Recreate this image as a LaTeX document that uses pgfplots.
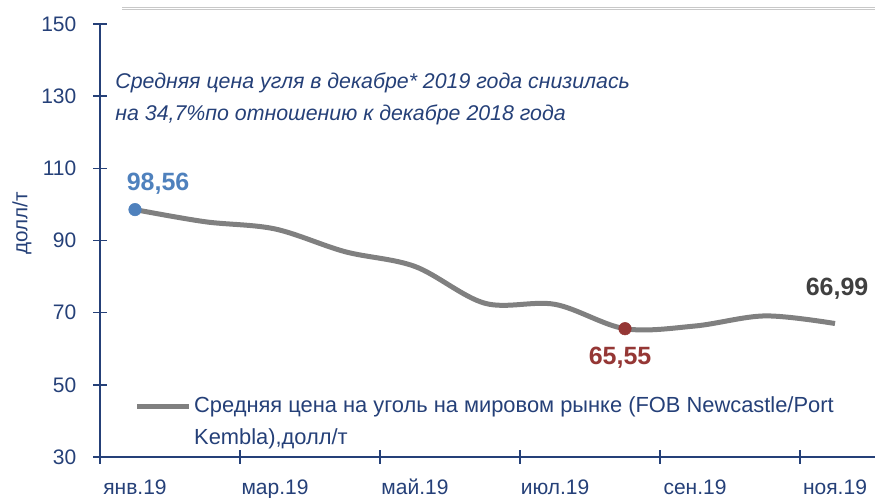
\documentclass[border=0pt]{standalone}
\usepackage{fontspec}
\setmainfont{Liberation Sans}
\usepackage{pgfplots}
\pgfplotsset{compat=1.18}
\definecolor{txtblue}{RGB}{37,64,120}
\definecolor{ptblue}{RGB}{79,129,189}
\definecolor{ptred}{RGB}{149,55,53}
\definecolor{lbgray}{RGB}{64,64,64}
\definecolor{linegray}{RGB}{128,128,128}
\definecolor{topgray}{RGB}{200,200,200}
\pgfplotstableread{
m v
0 98.56
1 95.2
2 93.2
3 86.9
4 82.8
5 72.6
6 72.3
7 65.55
8 66.3
9 69.1
10 66.99
}\coal
\begin{document}
\begin{tikzpicture}
\begin{axis}[
  at={(75pt,30.75pt)}, anchor=south west,
  scale only axis, width=630pt, height=324.75pt,
  xmin=-0.5, xmax=11.5, ymin=30, ymax=150,
  axis x line*=bottom, axis y line*=left,
  axis line style={txtblue, line width=1.2pt},
  ytick={30,50,...,150},
  xtick={-0.5,1.5,...,11.5},
  xticklabels={},
  extra x ticks={0,2,4,6,8,10},
  extra x tick labels={янв.19,мар.19,май.19,июл.19,сен.19,ноя.19},
  extra x tick style={tick style={draw=none}},
  tick align=center,
  major tick length=10.5pt,
  tick style={txtblue, line width=1.2pt},
  ticklabel style={font=\fontsize{15.75}{18}\selectfont, text=txtblue},
  /pgf/number format/assume math mode=true,
  yticklabel style={xshift=-9pt},
  xticklabel style={yshift=-8pt},
  ylabel={долл/т},
  ylabel style={at={(axis description cs:-0.093,0.54)}, anchor=center, font=\fontsize{15.5}{18}\selectfont, text=txtblue},
  legend style={draw=none, fill=none, at={(axis description cs:0.036,0.152)}, anchor=north west,
    font=\fontsize{16.4}{24}\selectfont, text=txtblue, cells={align=left}},
  legend image code/.code={\draw[linegray, line width=3.75pt] (0pt,11.5pt) -- (39pt,11.5pt);},
  clip=false,
]
\addplot[linegray, line width=3.75pt, smooth, tension=0.55] table[x=m,y=v] {\coal};
\addlegendentry{Средняя цена на уголь на мировом рынке (FOB Newcastle/Port\\Kembla),долл/т}
\addplot[only marks, mark=*, mark size=4.7pt, ptblue, forget plot] coordinates {(0,98.56)};
\addplot[only marks, mark=*, mark size=4.7pt, ptred, forget plot] coordinates {(7,65.55)};
\node[font=\bfseries\fontsize{18.75}{20}\selectfont, text=ptblue] at (axis cs:0.33,105.8) {98,56};
\node[font=\bfseries\fontsize{18.75}{20}\selectfont, text=ptred] at (axis cs:6.93,57.6) {65,55};
\node[font=\bfseries\fontsize{18.75}{20}\selectfont, text=lbgray] at (axis cs:10.03,76.6) {66,99};
\node[anchor=base west, font=\itshape\fontsize{16}{18}\selectfont, text=txtblue, inner sep=0pt] at (axis description cs:0.018,0.852) {Средняя цена угля в декабре* 2019 года снизилась};
\node[anchor=base west, font=\itshape\fontsize{16}{18}\selectfont, text=txtblue, inner sep=0pt] at (axis description cs:0.018,0.778) {на 34,7\%по отношению к декабре 2018 года};
\end{axis}
\draw[topgray, line width=0.75pt] (91.5pt,367.5pt) -- (660pt,367.5pt);
\draw[topgray, line width=0.75pt] (91.5pt,366pt) -- (660pt,366pt);
\pgfresetboundingbox
\path[use as bounding box] (0,0) rectangle (656.25pt,373.5pt);
\end{tikzpicture}
\end{document}
